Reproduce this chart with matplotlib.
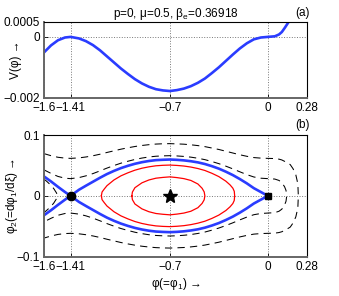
import matplotlib
matplotlib.use('Agg')
import matplotlib.pyplot as plt

plt.rcParams['font.family'] = ['Liberation Sans', 'DejaVu Sans']
plt.rcParams['mathtext.fontset'] = 'custom'
plt.rcParams['mathtext.rm'] = 'Liberation Sans'
plt.rcParams['mathtext.it'] = 'Liberation Sans'
plt.rcParams['font.size'] = 8.5

# Sagdeev potential V(phi)
phi = [-1.60, -1.55, -1.50, -1.45, -1.41, -1.35, -1.30, -1.25, -1.20, -1.15,
       -1.10, -1.05, -1.00, -0.95, -0.90, -0.85, -0.80, -0.75, -0.70, -0.65,
       -0.60, -0.55, -0.50, -0.45, -0.40, -0.35, -0.30, -0.25, -0.20, -0.15,
       -0.10, -0.05, 0.00, 0.05, 0.08, 0.10, 0.12, 0.14, 0.16]
V = [-0.00051, -0.00028, -0.00011, -0.00002, 0.0, -0.00005, -0.00014, -0.00027,
     -0.00044, -0.00064, -0.00084, -0.00104, -0.00122, -0.00139, -0.00153,
     -0.00164, -0.00172, -0.00176, -0.00178, -0.00175, -0.00170, -0.00162,
     -0.00151, -0.00137, -0.00119, -0.00100, -0.00079, -0.00058, -0.00038,
     -0.00021, -0.00008, -0.00002, 0.0, 0.00002, 0.00008, 0.00016, 0.00029,
     0.00043, 0.00058]

# phase portrait (b), upper halves only -- the picture is symmetric in phi2
sep_x = [-1.60, -1.55, -1.50, -1.45, -1.41, -1.35, -1.30, -1.25, -1.20, -1.15,
         -1.10, -1.05, -1.00, -0.95, -0.90, -0.85, -0.80, -0.75, -0.70, -0.65,
         -0.60, -0.55, -0.50, -0.45, -0.40, -0.35, -0.30, -0.25, -0.20, -0.15,
         -0.10, -0.05, 0.00]
sep_y = [0.0319, 0.0237, 0.0148, 0.0063, 0.0, 0.0100, 0.0167, 0.0232, 0.0297,
         0.0358, 0.0410, 0.0456, 0.0494, 0.0527, 0.0553, 0.0573, 0.0587, 0.0593,
         0.0597, 0.0592, 0.0583, 0.0569, 0.0550, 0.0523, 0.0488, 0.0447, 0.0397,
         0.0341, 0.0276, 0.0205, 0.0126, 0.0063, 0.0]

red1_x = [-1.190, -1.185, -1.17, -1.15, -1.10, -1.05, -1.00, -0.95, -0.90, -0.85,
          -0.80, -0.75, -0.70, -0.65, -0.60, -0.55, -0.50, -0.45, -0.40, -0.35,
          -0.30, -0.27, -0.25, -0.24, -0.237]
red1_y = [0.0, 0.0063, 0.0110, 0.0167, 0.0261, 0.0329, 0.0379, 0.0422, 0.0454,
          0.0477, 0.0494, 0.0502, 0.0506, 0.0500, 0.0490, 0.0473, 0.0449, 0.0417,
          0.0371, 0.0316, 0.0241, 0.0180, 0.0126, 0.0075, 0.0]

red2_x = [-0.972, -0.968, -0.95, -0.90, -0.85, -0.80, -0.75, -0.70, -0.65, -0.60,
          -0.55, -0.50, -0.47, -0.455, -0.450]
red2_y = [0.0, 0.0063, 0.0134, 0.0214, 0.0261, 0.0290, 0.0303, 0.0312, 0.0300,
          0.0283, 0.0253, 0.0195, 0.0125, 0.0065, 0.0]

dash1_x = [-1.60, -1.58, -1.55, -1.53, -1.51, -1.506]
dash1_y = [0.0276, 0.0237, 0.0173, 0.0118, 0.0045, 0.0]

dash2_x = [-1.60, -1.55, -1.50, -1.45, -1.41, -1.35, -1.30, -1.25, -1.20, -1.15,
           -1.10, -1.05, -1.00, -0.95, -0.90, -0.85, -0.80, -0.75, -0.70, -0.65,
           -0.60, -0.55, -0.50, -0.45, -0.40, -0.35, -0.30, -0.25, -0.20, -0.15,
           -0.10, -0.05, 0.00, 0.05, 0.08, 0.10, 0.12, 0.13, 0.135]
dash2_y = [0.0427, 0.0369, 0.0319, 0.0290, 0.0283, 0.0300, 0.0329, 0.0366, 0.0410,
           0.0456, 0.0498, 0.0537, 0.0569, 0.0598, 0.0621, 0.0639, 0.0651, 0.0657,
           0.0660, 0.0656, 0.0648, 0.0636, 0.0618, 0.0595, 0.0564, 0.0529, 0.0488,
           0.0443, 0.0395, 0.0349, 0.0310, 0.0290, 0.0283, 0.0276, 0.0253, 0.0219,
           0.0148, 0.0089, 0.0]

dash3_x = [-1.60, -1.55, -1.50, -1.45, -1.41, -1.35, -1.30, -1.25, -1.20, -1.15,
           -1.10, -1.05, -1.00, -0.95, -0.90, -0.85, -0.80, -0.75, -0.70, -0.65,
           -0.60, -0.55, -0.50, -0.45, -0.40, -0.35, -0.30, -0.25, -0.20, -0.15,
           -0.10, -0.05, 0.00, 0.05, 0.08, 0.10, 0.12, 0.14, 0.16, 0.18, 0.20,
           0.21, 0.215, 0.218]
dash3_y = [0.0694, 0.0660, 0.0634, 0.0620, 0.0616, 0.0624, 0.0639, 0.0659, 0.0684,
           0.0713, 0.0740, 0.0767, 0.0790, 0.0811, 0.0828, 0.0841, 0.0851, 0.0856,
           0.0858, 0.0854, 0.0849, 0.0839, 0.0826, 0.0809, 0.0786, 0.0762, 0.0733,
           0.0704, 0.0675, 0.0650, 0.0629, 0.0620, 0.0616, 0.0613, 0.0603, 0.0590,
           0.0567, 0.0542, 0.0514, 0.0447, 0.0346, 0.0245, 0.0173, 0.0]

xticks = [-1.6, -1.41, -0.7, 0, 0.28]
xlabels = ['\u22121.6', '\u22121.41', '\u22120.7', '0', '0.28']
blue = '#2a3cff'


def closed(x, y):
    # upper half forward, mirrored lower half back
    return list(x) + list(x[::-1]), list(y) + [-v for v in y[::-1]]


def style(ax):
    ax.set_xlim(-1.6, 0.28)
    ax.set_xticks(xticks)
    ax.set_xticklabels(xlabels)
    ax.tick_params(direction='in', length=3, width=0.6, pad=3)
    ax.grid(True, linestyle=':', color='#777777', linewidth=0.7)
    for s in ax.spines.values():
        s.set_linewidth(0.8)
    ax.spines['left'].set_color('#666666')
    ax.spines['bottom'].set_color('#666666')
    ax.spines['left'].set_linewidth(1.4)
    ax.spines['bottom'].set_linewidth(1.4)


fig = plt.figure(figsize=(3.39, 2.96), dpi=100)

# (a) potential
ax1 = fig.add_axes([0.1298, 0.6699, 0.7758, 0.2568])
ax1.plot(phi, V, color=blue, lw=1.9)
ax1.set_ylim(-0.002, 0.0005)
ax1.set_yticks([-0.002, 0, 0.0005])
ax1.set_yticklabels(['\u22120.002', '0', '0.0005'])
ax1.set_ylabel('V(\u03c6) \u2192')
ax1.yaxis.set_label_coords(-0.084, 0.5)
style(ax1)
ax1.set_title('p=0, \u03bc=0.5, \u03b2$_\\mathregular{e}$=0.36918', fontsize=8.5, pad=3)
ax1.text(0.981, 1.03, '(a)', transform=ax1.transAxes, ha='center', va='bottom')

# (b) phase portrait
ax2 = fig.add_axes([0.1298, 0.1328, 0.7758, 0.4111])
for cx, cy in [(dash1_x, dash1_y), (dash2_x, dash2_y), (dash3_x, dash3_y)]:
    xx, yy = closed(cx, cy)
    ax2.plot(xx, yy, color='k', lw=0.75, dashes=(7, 5))
for cx, cy in [(red1_x, red1_y), (red2_x, red2_y)]:
    xx, yy = closed(cx, cy)
    ax2.plot(xx, yy, color='red', lw=0.9)
xx, yy = closed(sep_x, sep_y)
ax2.plot(xx, yy, color=blue, lw=1.9)
ax2.plot(-1.41, 0, 'o', color='k', ms=6)
ax2.plot(0, 0, 's', color='k', ms=4.5)
ax2.plot(-0.7, 0, '*', color='k', ms=10)
ax2.set_ylim(-0.1, 0.1)
ax2.set_yticks([-0.1, 0, 0.1])
ax2.set_yticklabels(['\u22120.1', '0', '0.1'])
ax2.set_ylabel('\u03c6$_\\mathregular{2}$(=d\u03c6$_\\mathregular{1}$/d\u03be) \u2192')
ax2.yaxis.set_label_coords(-0.092, 0.5)
ax2.set_xlabel('\u03c6(=\u03c6$_\\mathregular{1}$) \u2192', labelpad=2)
style(ax2)
ax2.text(0.981, 1.03, '(b)', transform=ax2.transAxes, ha='center', va='bottom')

fig.savefig('out.png', dpi=100)
